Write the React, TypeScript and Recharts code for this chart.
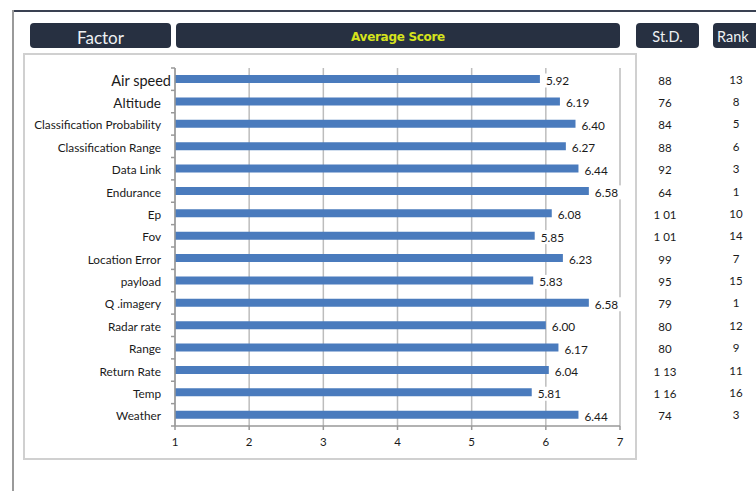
import React from 'react';
import { BarChart, Bar, XAxis, YAxis, CartesianGrid, LabelList } from 'recharts';

const factors = [
  'Air speed', 'Altitude', 'Classification Probability', 'Classification Range', 'Data Link',
  'Endurance', 'Ep', 'Fov', 'Location Error', 'payload', 'Q .imagery', 'Radar rate',
  'Range', 'Return Rate', 'Temp', 'Weather',
];
const scores = [5.92, 6.19, 6.40, 6.27, 6.44, 6.58, 6.08, 5.85, 6.23, 5.83, 6.58, 6.00, 6.17, 6.04, 5.81, 6.44];
const stdDevs = ['88', '76', '84', '88', '92', '64', '1 01', '1 01', '99', '95', '79', '80', '80', '1 13', '1 16', '74'];
const ranks = [13, 8, 5, 6, 3, 1, 10, 14, 7, 15, 1, 12, 9, 11, 16, 3];
const xTicks = [1, 2, 3, 4, 5, 6, 7];

const data = factors.map((factor, i) => ({ factor, score: scores[i], std: stdDevs[i], rank: ranks[i] }));

const FONT = 'Lato, "Open Sans", sans-serif';
const PLOT_TOP = 68;
const PLOT_BOTTOM = 426;
const HALF_BAND = (PLOT_BOTTOM - PLOT_TOP) / factors.length / 2;

function FactorTick(props: any) {
  const { x, y, payload, index } = props;
  const size = index === 0 ? 14.5 : index === 1 ? 13.5 : 11.8;
  const tx = index === 0 ? x - 4 : x - 14;
  return (
    <g>
      <text x={tx} y={y + 1} textAnchor="end" dominantBaseline="central" fontSize={size} fill="#1a1a1a" fontFamily={FONT}>
        {payload.value}
      </text>
      {index === 0 && <line x1={x - 4} x2={x} y1={y - HALF_BAND} y2={y - HALF_BAND} stroke="#999" strokeWidth={1.5} />}
      <line x1={x - 4} x2={x} y1={y + HALF_BAND} y2={y + HALF_BAND} stroke="#999" strokeWidth={1.5} />
    </g>
  );
}

function StatsTick(props: any) {
  const { x, y, index } = props;
  const row = data[index];
  if (!row) return null;
  return (
    <g fontFamily={FONT} fontSize={11.5} fill="#1a1a1a">
      <text x={x + 45} y={y + 1} textAnchor="middle" dominantBaseline="central">{row.std}</text>
      <text x={x + 116} y={y} textAnchor="middle" dominantBaseline="central">{row.rank}</text>
    </g>
  );
}

function ValueLabel(props: any) {
  const { x, y, width, height, value } = props;
  const lx = x + width + 6;
  const cy = y + height / 2 + 1.5;
  return (
    <g>
      <rect x={lx - 1} y={cy - 7} width={28} height={14} fill="#fff" />
      <text x={lx} y={cy} dominantBaseline="central" fontSize={11.8} fill="#1a1a1a" fontFamily={FONT}>
        {Number(value).toFixed(2)}
      </text>
    </g>
  );
}

const headerBox: React.CSSProperties = {
  position: 'absolute',
  top: 23,
  height: 25,
  background: '#273041',
  borderRadius: 4,
  display: 'flex',
  alignItems: 'center',
  justifyContent: 'center',
  color: '#eef0f3',
  fontFamily: FONT,
  boxSizing: 'border-box',
};

export default function App() {
  return (
    <div style={{ position: 'absolute', left: 0, top: 0, width: 756, height: 491, background: '#fff', overflow: 'hidden' }}>
      {/* frame lines */}
      <div style={{ position: 'absolute', left: 13, top: 10, width: 743, height: 2, background: '#3a4152' }} />
      <div style={{ position: 'absolute', left: 12, top: 10, width: 2, height: 481, background: '#9a9a9a' }} />

      {/* column headers */}
      <div style={{ ...headerBox, left: 30, width: 141, fontSize: 17, paddingTop: 3 }}>Factor</div>
      <div style={{ ...headerBox, left: 176, width: 444, fontSize: 12, fontWeight: 900, color: '#d6e31c', fontFamily: '"DejaVu Sans", sans-serif', letterSpacing: -0.3, paddingTop: 2 }}>
        Average Score
      </div>
      <div style={{ ...headerBox, left: 636, width: 63, fontSize: 14.5, paddingTop: 2 }}>St.D.</div>
      <div style={{ ...headerBox, left: 713, width: 60, fontSize: 14.5, justifyContent: 'flex-start', paddingLeft: 4, paddingTop: 2 }}>Rank</div>

      {/* chart panel */}
      <div style={{ position: 'absolute', left: 23, top: 53, width: 614, height: 407, border: '2px solid #d0d0d0', boxSizing: 'border-box' }} />

      <div style={{ position: 'absolute', left: 0, top: 0 }}>
        <BarChart
          width={756}
          height={491}
          data={data}
          layout="vertical"
          margin={{ top: PLOT_TOP, right: 0, bottom: 491 - PLOT_BOTTOM - 30, left: 0 }}
        >
          <CartesianGrid horizontal={false} vertical stroke="#bdbdbd" strokeWidth={1.5} />
          <XAxis
            type="number"
            domain={[1, 7]}
            ticks={xTicks}
            height={30}
            stroke="#999"
            strokeWidth={1.5}
            tickSize={4}
            tickMargin={8}
            tick={{ fontSize: 11.5, fill: '#1a1a1a', fontFamily: FONT }}
          />
          <YAxis
            yAxisId="left"
            type="category"
            dataKey="factor"
            width={175}
            stroke="#999"
            strokeWidth={1.5}
            tickLine={false}
            tickSize={0}
            tickMargin={0}
            interval={0}
            tick={<FactorTick />}
          />
          <YAxis
            yAxisId="right"
            orientation="right"
            type="category"
            dataKey="factor"
            width={136}
            axisLine={false}
            tickLine={false}
            tickSize={0}
            tickMargin={0}
            interval={0}
            tick={<StatsTick />}
          />
          <Bar yAxisId="left" dataKey="score" fill="#4a7bbd" barSize={8} isAnimationActive={false}>
            <LabelList dataKey="score" content={<ValueLabel />} />
          </Bar>
        </BarChart>
      </div>
    </div>
  );
}
